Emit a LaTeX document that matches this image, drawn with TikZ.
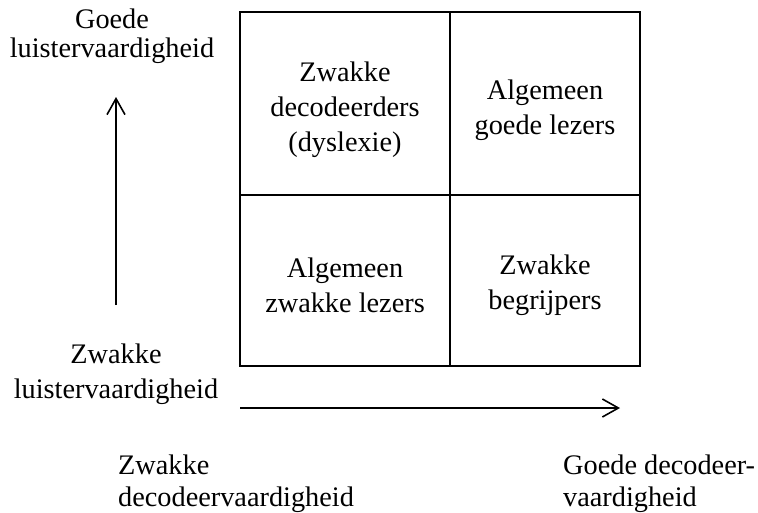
\documentclass[tikz,border=0pt]{standalone}
\usepackage{fontspec}
\setmainfont{Liberation Serif}
\usetikzlibrary{arrows.meta}
\begin{document}
\begin{tikzpicture}[x=1pt,y=-1pt,
  celltext/.style={align=center,inner sep=0pt,font=\fontsize{28.3}{35}\selectfont},
  axistext/.style={align=center,inner sep=0pt,font=\fontsize{28.3}{29}\selectfont},
  axisleft/.style={align=left,inner sep=0pt,font=\fontsize{28.3}{32}\selectfont,anchor=west},
  grid/.style={line width=1.6pt},
  axisarrow/.style={line width=1.6pt,-{Straight Barb[length=16pt,width=18pt,line width=1.6pt]}}]
\useasboundingbox (0,0) rectangle (758,512);
% grid
\coordinate (tl) at (240,12);
\coordinate (br) at (640,366);
\draw[grid] (tl) rectangle (br);
\coordinate (mt) at (450,12);
\coordinate (mb) at (450,366);
\coordinate (ml) at (240,195);
\coordinate (mr) at (640,195);
\draw[grid] (mt) -- (mb);
\draw[grid] (ml) -- (mr);
% cell texts
\node[celltext] (c1) at (345,110) {Zwakke\\decodeerders\\(dyslexie)};
\node[celltext] (c2) at (545,110) {Algemeen\\goede lezers};
\node[celltext] (c3) at (345,285) {Algemeen\\zwakke lezers};
\node[celltext] (c4) at (545,285) {Zwakke\\begrijpers};
% axis labels
\node[axistext] (gl) at (112,36) {Goede\\luistervaardigheid};
\node[celltext] (zl) at (116,374) {Zwakke\\luistervaardigheid};
\node[axisleft] (zd) at (118,484) {Zwakke\\decodeervaardigheid};
\node[axisleft] (gd) at (563,484) {Goede decodeer-\\vaardigheid};
% arrows
\coordinate (va) at (116,305);
\coordinate (vb) at (116,97);
\draw[axisarrow] (va) -- (vb);
\coordinate (ha) at (240,408);
\coordinate (hb) at (620,408);
\draw[axisarrow] (ha) -- (hb);
\end{tikzpicture}
\end{document}
